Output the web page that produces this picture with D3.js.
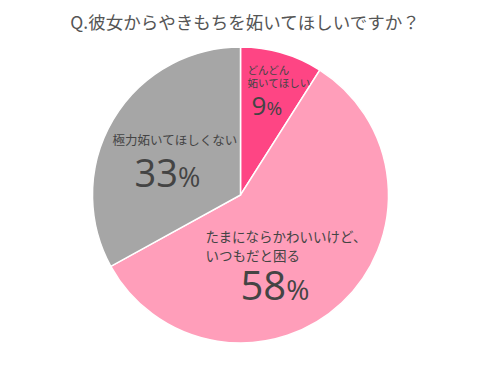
<!DOCTYPE html>
<html>
<head>
<meta charset="utf-8">
<script src="https://cdn.jsdelivr.net/npm/d3@7"></script>
<style>
  body { margin: 0; background: #fff; }
  text { font-family: "Noto Sans CJK JP", "Noto Sans", sans-serif; fill: #444; }
</style>
</head>
<body>
<script>
// chart data
var title = "Q.彼女からやきもちを妬いてほしいですか？";
var categories = ["どんどん妬いてほしい", "たまにならかわいいけど、いつもだと困る", "極力妬いてほしくない"];
var values = [9, 58, 33];
var colors = ["#fe4584", "#ff9eba", "#a6a6a6"];

// label lines for each slice
var labelLines = [["どんどん", "妬いてほしい"], ["たまにならかわいいけど、", "いつもだと困る"], ["極力妬いてほしくない"]];

window.onload = function() {
    var w = 490, h = 384;
    var cx = 240.5, cy = 195, r = 148;

    var svg = d3.select("body").append("svg")
        .attr("width", w)
        .attr("height", h);

    svg.append("text")
        .attr("x", 245)
        .attr("y", 29)
        .attr("text-anchor", "middle")
        .style("font-size", "17.5px")
        .style("fill", "#555")
        .text(title);

    var pie = d3.pie().sort(null).value(function(d) { return d; });
    var arc = d3.arc().innerRadius(0).outerRadius(r);

    var g = svg.append("g").attr("transform", "translate(" + cx + "," + cy + ")");

    g.selectAll("path")
        .data(pie(values))
        .enter()
        .append("path")
        .attr("d", arc)
        .attr("fill", function(d, i) { return colors[i]; })
        .attr("stroke", "#fff")
        .attr("stroke-width", 1.5);

    // label positions relative to center
    var labelPos = [
        { x: 7, y: -121, size: 10.5, lh: 13, px: 11, py: -80, num: 26, pct: 19 },
        { x: -35, y: 47, size: 13.5, lh: 19, px: 0, py: 105, num: 40, pct: 28 },
        { x: -128, y: -50, size: 12.5, lh: 0, px: -106, py: -8, num: 38, pct: 27 }
    ];

    labelLines.forEach(function(lines, i) {
        var p = labelPos[i];
        var t = g.append("text")
            .attr("x", p.x)
            .attr("y", p.y)
            .style("font-size", p.size + "px");
        lines.forEach(function(line, j) {
            t.append("tspan")
                .attr("x", p.x)
                .attr("dy", j === 0 ? 0 : p.lh)
                .text(line);
        });

        var n = g.append("text")
            .attr("x", p.px)
            .attr("y", p.py)
            .style("font-family", "'Open Sans', sans-serif")
            .style("font-weight", 400);
        n.append("tspan").style("font-size", p.num + "px").text(values[i]);
        n.append("tspan").style("font-size", p.pct + "px").text("%");
    });
};
</script>
</body>
</html>
